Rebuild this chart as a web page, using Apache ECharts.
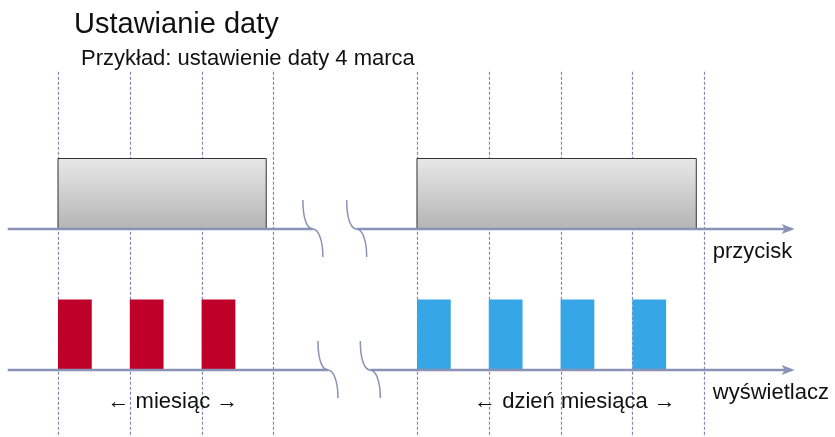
<!DOCTYPE html>
<html>
<head>
<meta charset="utf-8">
<title>Ustawianie daty</title>
<script src="https://cdn.jsdelivr.net/npm/echarts@6/dist/echarts.min.js"></script>
<style>
  html, body { margin: 0; padding: 0; background: #fff; }
  #chart { width: 835px; height: 437px; }
</style>
</head>
<body>
<div id="chart"></div>
<script>
// czas w jednostkach siatki (jedna kreska = jeden krok), poziomy w jednostkach wysokości impulsu
const gridTicks = [0, 1, 2, 3, 5, 6, 7, 8, 9];
const signalNames = ['przycisk', 'wyświetlacz'];
const signalLevels = [2, 0];
const buttonPresses = [[0, 2.9], [5, 8.89]];
const monthPulses = [[0, 0.47], [1, 1.47], [2, 2.47]];
const dayPulses = [[5, 5.47], [6, 6.47], [7, 7.47], [8, 8.47]];
const axisBreaks = [[3.55, 4.16], [3.76, 4.35]];
const axisStart = -0.7;
const axisEnd = 10.26;
const rangeLabels = [['← miesiąc →', 1.6], ['← dzień miesiąca →', 7.2]];

const LINE = '#8a93b6';
const DASH = '#7e87ae';
const FONT = '"Liberation Sans", Arial, sans-serif';

const chart = echarts.init(document.getElementById('chart'));

// przerywane pionowe linie siatki
function renderTicks(params, api) {
  const x = api.value(0);
  const a = api.coord([x, 4.23]);
  const b = api.coord([x, -0.95]);
  return {
    type: 'line',
    shape: { x1: Math.round(a[0]) + 0.5, y1: a[1], x2: Math.round(a[0]) + 0.5, y2: b[1] },
    style: { stroke: DASH, lineWidth: 1.2, lineDash: [3, 2] }
  };
}

// prostokąt impulsu
function renderPulse(color, height, gradient) {
  return function (params, api) {
    const base = api.value(2);
    const p0 = api.coord([api.value(0), base + height]);
    const p1 = api.coord([api.value(1), base]);
    const style = gradient
      ? {
          fill: new echarts.graphic.LinearGradient(0, 0, 0, 1, [
            { offset: 0, color: '#e8e8e8' },
            { offset: 1, color: '#b4b4b4' }
          ]),
          stroke: '#333', lineWidth: 1
        }
      : { fill: color };
    return {
      type: 'rect',
      shape: { x: p0[0], y: p0[1], width: p1[0] - p0[0], height: p1[1] - p0[1] },
      style: style
    };
  };
}

// oś czasu z przerwą i strzałką
function renderAxis(params, api) {
  const i = params.dataIndex;
  const level = signalLevels[i];
  const br = axisBreaks[i];
  const s = api.coord([axisStart, level]);
  const b1 = api.coord([br[0], level]);
  const b2 = api.coord([br[1], level]);
  const e = api.coord([axisEnd, level]);
  const y = s[1];
  const curve = (x) => 'M' + (x - 10) + ' ' + (y - 29) +
    ' C' + (x - 10) + ' ' + (y - 8) + ' ' + (x - 5) + ' ' + y + ' ' + x + ' ' + y +
    ' C' + (x + 5) + ' ' + y + ' ' + (x + 10) + ' ' + (y + 10) + ' ' + (x + 10) + ' ' + (y + 28);
  const st = { stroke: LINE, lineWidth: 2.5, fill: null };
  const thin = { stroke: LINE, lineWidth: 1.5, fill: null };
  return {
    type: 'group',
    children: [
      { type: 'line', shape: { x1: s[0], y1: y, x2: b1[0], y2: y }, style: st },
      { type: 'line', shape: { x1: b2[0], y1: y, x2: e[0] - 3, y2: y }, style: st },
      { type: 'path', shape: { pathData: curve(b1[0]) }, style: thin },
      { type: 'path', shape: { pathData: curve(b2[0]) }, style: thin },
      { type: 'polygon', shape: { points: [[e[0] - 13, y - 5], [e[0], y], [e[0] - 13, y + 5], [e[0] - 10, y]] }, style: { fill: LINE } }
    ]
  };
}

function renderSignalName(params, api) {
  const i = params.dataIndex;
  const p = api.coord([9.12, signalLevels[i] - 0.33]);
  return {
    type: 'text',
    x: p[0], y: p[1],
    style: { text: signalNames[i], fill: '#111', font: '22px ' + FONT, textAlign: 'left', textVerticalAlign: 'middle' }
  };
}

function renderRange(params, api) {
  const p = api.coord([api.value(0), -0.45]);
  return {
    type: 'text',
    x: p[0], y: p[1],
    style: { text: rangeLabels[params.dataIndex][0], fill: '#111', font: '22px ' + FONT, textAlign: 'center', textVerticalAlign: 'middle' }
  };
}

chart.setOption({
  animation: false,
  title: [
    { text: 'Ustawianie daty', left: 69, top: 5, textStyle: { fontFamily: FONT, fontSize: 29, fontWeight: 'normal', color: '#111' } },
    { text: 'Przykład: ustawienie daty 4 marca', left: 76, top: 43, textStyle: { fontFamily: FONT, fontSize: 22, fontWeight: 'normal', color: '#111' } }
  ],
  grid: { left: 0, right: 0, top: 0, bottom: 0 },
  xAxis: { type: 'value', min: -0.808, max: 10.822, show: false },
  yAxis: { type: 'value', min: -0.95, max: 5.248, show: false },
  series: [
    { type: 'custom', renderItem: renderTicks, data: gridTicks.map(t => [t]), z: 1 },
    { type: 'custom', renderItem: renderPulse(null, 1, true), data: buttonPresses.map(p => [p[0], p[1], signalLevels[0]]), z: 2 },
    { type: 'custom', renderItem: renderPulse('#bf0029', 1, false), data: monthPulses.map(p => [p[0], p[1], signalLevels[1]]), z: 2 },
    { type: 'custom', renderItem: renderPulse('#36a6e6', 1, false), data: dayPulses.map(p => [p[0], p[1], signalLevels[1]]), z: 2 },
    { type: 'custom', renderItem: renderAxis, data: signalLevels.map(l => [0, l]), z: 3 },
    { type: 'custom', renderItem: renderSignalName, data: signalLevels.map(l => [9.12, l]), z: 4 },
    { type: 'custom', renderItem: renderRange, data: rangeLabels.map(r => [r[1]]), z: 4 }
  ]
});

window.addEventListener('resize', () => chart.resize());
</script>
</body>
</html>
